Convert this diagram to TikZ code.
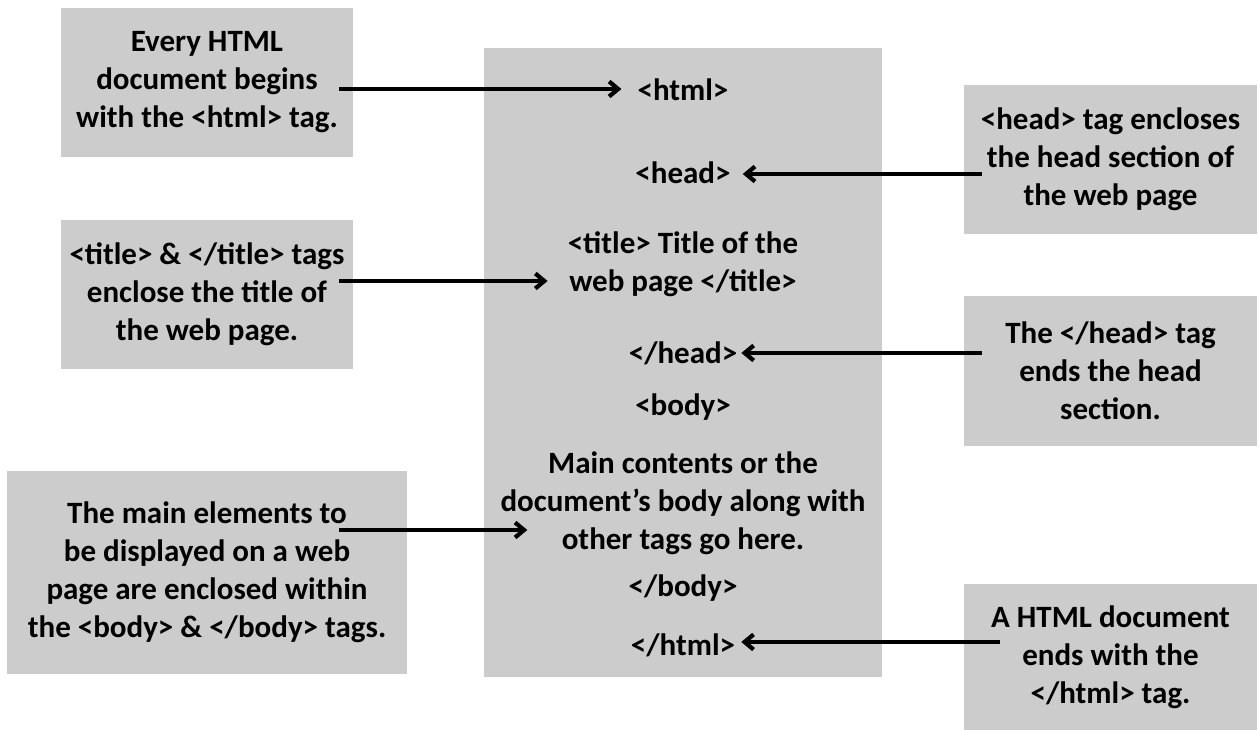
\documentclass[tikz,border=0pt]{standalone}
\usepackage{fontspec}
\setmainfont{Carlito}
\usetikzlibrary{arrows.meta}
\definecolor{boxgray}{RGB}{204,204,204}

\begin{document}
\begin{tikzpicture}
[x=1pt,y=-1pt,%
 every node/.style={font=\bfseries\fontsize{31}{38}\selectfont},%
 boxstyle/.style={fill=boxgray,inner sep=0pt,align=center},%
 tagstyle/.style={inner sep=0pt,align=center},%
 arrowstyle/.style={line width=3.2pt,-{Straight Barb[length=9pt,width=15pt,line width=4.2pt]}}]
\useasboundingbox (0,0) rectangle (1259,730);
%% the page with its tags
\node[boxstyle,minimum width=398,minimum height=629] (page) at (683,362.5) {};
\node[tagstyle] (html) at (683,90) {<html>};
\node[tagstyle] (head) at (683,173) {<head>};
\node[tagstyle] (title) at (683,264) {<title> Title of the\\web page </title>};
\node[tagstyle] (ehead) at (683,353) {</head>};
\node[tagstyle] (body) at (683,407) {<body>};
\node[tagstyle] (main) at (683,503) {Main contents or the\\document’s body along with\\other tags go here.};
\node[tagstyle] (ebody) at (683,588) {</body>};
\node[tagstyle] (ehtml) at (683,645) {</html>};
%% notes on the left
\node[boxstyle,minimum width=292,minimum height=149] (beginnote) at (207,82.5)
  {Every HTML\\document begins\\with the <html> tag.};
\node[boxstyle,minimum width=292,minimum height=149] (titlenote) at (207,294.5)
  {<title> \& </title> tags\\enclose the title of\\the web page.};
\node[boxstyle,minimum width=400,minimum height=203] (bodynote) at (207,572.5)
  {The main elements to\\be displayed on a web\\page are enclosed within\\the <body> \& </body> tags.};
%% notes on the right
\node[boxstyle,minimum width=293,minimum height=149] (headnote) at (1110.5,159.5)
  {<head> tag encloses\\the head section of\\the web page};
\node[boxstyle,minimum width=293,minimum height=150] (eheadnote) at (1110.5,371)
  {The </head> tag\\ends the head\\section.};
\node[boxstyle,minimum width=293,minimum height=146] (ehtmlnote) at (1110.5,657)
  {A HTML document\\ends with the\\</html> tag.};
%% arrows
\coordinate (s1) at (339,89);
\coordinate (s2) at (339,281);
\coordinate (s3) at (982,174);
\coordinate (s4) at (982,353);
\coordinate (s5) at (339,530);
\coordinate (s6) at (1000,642);
\draw[arrowstyle,shorten >=16pt] (s1) -- (s1 -| html.west);
\draw[arrowstyle,shorten >=20pt] (s2) -- (s2 -| title.west);
\draw[arrowstyle,shorten >=-27pt] (s5) -- (s5 -| main.west);
\draw[arrowstyle,shorten >=12pt] (s3) -- (s3 -| head.east);
\draw[arrowstyle,shorten >=4pt] (s4) -- (s4 -| ehead.east);
\draw[arrowstyle,shorten >=6pt] (s6) -- (s6 -| ehtml.east);
\end{tikzpicture}
\end{document}
